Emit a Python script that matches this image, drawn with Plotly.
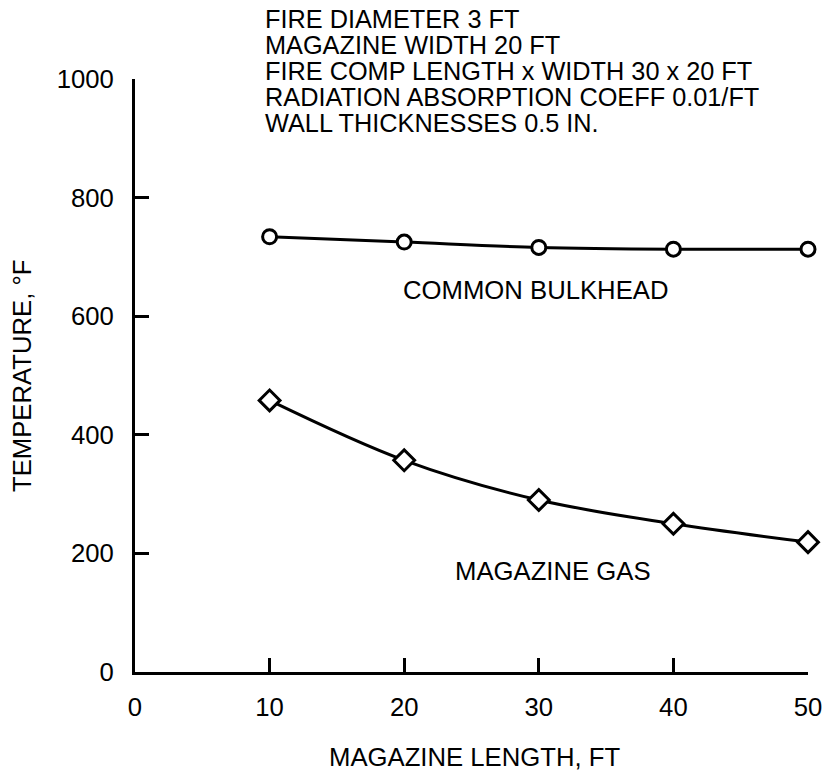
import plotly.graph_objects as go

# ---- data ----
magazine_length = [10, 20, 30, 40, 50]
common_bulkhead = [734, 725, 716, 713, 713]
magazine_gas = [458, 357, 290, 250, 219]

x_ticks = [0, 10, 20, 30, 40, 50]
y_ticks = [0, 200, 400, 600, 800, 1000]

header_lines = [
    "FIRE DIAMETER 3 FT",
    "MAGAZINE WIDTH 20 FT",
    "FIRE COMP LENGTH x WIDTH 30 x 20 FT",
    "RADIATION ABSORPTION COEFF 0.01/FT",
    "WALL THICKNESSES 0.5 IN.",
]

# ---- layout geometry (pixels) ----
W, H = 827, 771
L, R, T, B = 135, 19, 79, 99
PW, PH = W - L - R, H - T - B
FONT = "Liberation Sans, Arial, Helvetica, sans-serif"
FS = 25.7
FS_HEAD = 25.3


def px_x(p):
    return (p - L) / PW


def px_y(p):
    return (H - B - p) / PH


fig = go.Figure()

fig.add_trace(go.Scatter(
    x=magazine_length, y=common_bulkhead, mode="lines+markers",
    line=dict(color="black", width=3, shape="spline"),
    marker=dict(symbol="circle", size=14, color="white",
                line=dict(color="black", width=3)),
    cliponaxis=False, showlegend=False,
))
fig.add_trace(go.Scatter(
    x=magazine_length, y=magazine_gas, mode="lines+markers",
    line=dict(color="black", width=3, shape="spline"),
    marker=dict(symbol="diamond", size=16, color="white",
                line=dict(color="black", width=3)),
    cliponaxis=False, showlegend=False,
))

annotations = []
header_y = [19, 45, 71, 97, 123]
for txt, yy in zip(header_lines, header_y):
    annotations.append(dict(
        text=txt, xref="paper", yref="paper", x=px_x(264), y=px_y(yy),
        xanchor="left", yanchor="middle", showarrow=False, borderpad=0,
        font=dict(family=FONT, size=FS_HEAD, color="black"),
    ))
annotations.append(dict(
    text="COMMON BULKHEAD", xref="paper", yref="paper",
    x=px_x(535), y=px_y(290), xanchor="center", yanchor="middle",
    showarrow=False, font=dict(family=FONT, size=FS, color="black"),
))
annotations.append(dict(
    text="MAGAZINE GAS", xref="paper", yref="paper",
    x=px_x(553), y=px_y(571), xanchor="center", yanchor="middle",
    showarrow=False, font=dict(family=FONT, size=FS, color="black"),
))
annotations.append(dict(
    text="MAGAZINE LENGTH, FT", xref="paper", yref="paper",
    x=px_x(474), y=px_y(757), xanchor="center", yanchor="middle",
    showarrow=False, font=dict(family=FONT, size=FS, color="black"),
))
annotations.append(dict(
    text="TEMPERATURE, °F", xref="paper", yref="paper",
    x=px_x(22), y=px_y(376), xanchor="center", yanchor="middle",
    textangle=-90, showarrow=False,
    font=dict(family=FONT, size=FS, color="black"),
))

fig.update_layout(
    width=W, height=H,
    margin=dict(l=L, r=R, t=T, b=B, autoexpand=False),
    paper_bgcolor="white", plot_bgcolor="white",
    font=dict(family=FONT, size=FS, color="black"),
    annotations=annotations,
    xaxis=dict(
        range=[0, 50], tickmode="array", tickvals=x_ticks,
        ticktext=[str(v) for v in x_ticks], automargin=False,
        showgrid=False, zeroline=False, showline=True,
        linecolor="black", linewidth=3,
        ticks="inside", ticklen=14, tickwidth=3, tickcolor="black",
        ticklabelstandoff=10,
        tickfont=dict(family=FONT, size=FS, color="black"),
    ),
    yaxis=dict(
        range=[0, 1000], tickmode="array", tickvals=y_ticks,
        ticktext=[str(v) for v in y_ticks], automargin=False,
        showgrid=False, zeroline=False, showline=True,
        linecolor="black", linewidth=3,
        ticks="inside", ticklen=14, tickwidth=3, tickcolor="black",
        ticklabelstandoff=13,
        tickfont=dict(family=FONT, size=FS, color="black"),
    ),
)

fig.write_html(
    "out.html",
    config={"displayModeBar": False},
    post_script="document.body.style.margin='0';document.body.style.overflow='hidden';",
)
